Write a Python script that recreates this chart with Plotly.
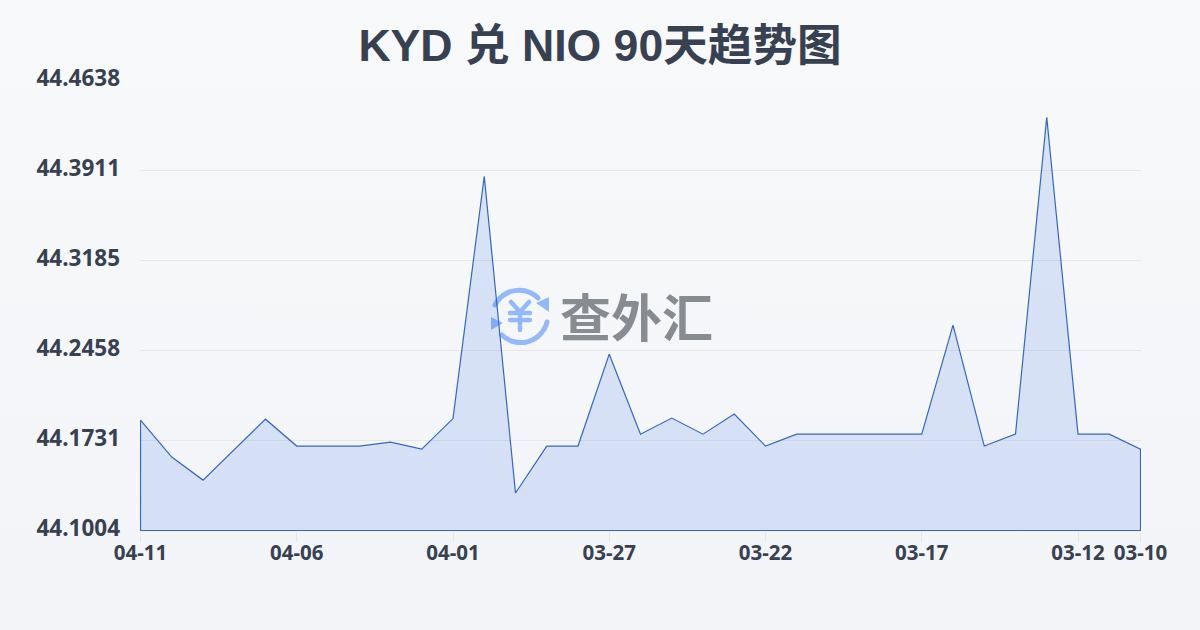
import base64
import plotly.graph_objects as go

dates = ["04-11","04-10","04-09","04-08","04-07","04-06","04-05","04-04","04-03","04-02","04-01",
         "03-31","03-30","03-29","03-28","03-27","03-26","03-25","03-24","03-23","03-22","03-21",
         "03-20","03-19","03-18","03-17","03-16","03-15","03-14","03-13","03-12","03-11","03-10"]
rates = [44.1895,44.1597,44.1411,44.1657,44.1903,44.1686,44.1686,44.1686,44.1718,44.1661,44.1908,
         44.3864,44.1307,44.1686,44.1686,44.2428,44.1782,44.1912,44.1782,44.1944,44.1686,44.1782,
         44.1782,44.1782,44.1782,44.1782,44.2662,44.1686,44.1782,44.4340,44.1782,44.1782,44.1661]
y_ticks = [44.1004,44.1731,44.2458,44.3185,44.3911,44.4638]
x_ticks = ["04-11","04-06","04-01","03-27","03-22","03-17","03-12","03-10"]
title = "KYD 兑 NIO 90天趋势图"
logo_text = "查外汇"

def uri(svg):
    return "data:image/svg+xml;base64," + base64.b64encode(svg.encode()).decode()

bg = uri('<svg xmlns="http://www.w3.org/2000/svg" width="1200" height="630"><defs><linearGradient id="g" x1="0" y1="0" x2="0" y2="1">'
         '<stop offset="0" stop-color="#f8f9fb"/><stop offset="1" stop-color="#f2f4f7"/></linearGradient></defs>'
         '<rect width="1200" height="630" fill="url(#g)"/></svg>')
icon = uri('<svg xmlns="http://www.w3.org/2000/svg" width="64" height="64" viewBox="0 0 64 64">'
           '<g fill="none" stroke="#93b8fb" stroke-width="5" stroke-linecap="round">'
           '<path d="M7 22 A27 27 0 0 1 50 15"/><path d="M59 39 A27 27 0 0 1 14 52"/>'
           '<path d="M23 19 L32 29 L41 19 M22 30 H42 M22 37 H42 M32 29 V47" stroke-width="4.5"/></g>'
           '<path d="M61 14 L61 29 L48 20 Z M3 34 L3 47 L15 40 Z" fill="#93b8fb"/></svg>')

x_poly = dates + [dates[-1], dates[0], dates[0]]
y_poly = rates + [y_ticks[0], y_ticks[0], rates[0]]

# Plot box in whole pixels; half a pixel of axis padding puts the edges on pixel centres.
W, H = 1001, 451
L, T = 140, 80
x_pad = 0.5 * (len(dates) - 1) / (W - 1)
y_pad = 0.5 * (y_ticks[-1] - y_ticks[0]) / (H - 1)

fig = go.Figure(go.Scatter(
    x=x_poly, y=y_poly, mode="lines", fill="toself", hoverinfo="skip",
    line=dict(color="#3366cc", width=1.2),
    fillcolor="rgba(37,99,235,0.14)",
))
fig.update_layout(
    width=1200, height=630, autosize=False, showlegend=False,
    margin=dict(l=L, r=1200-L-W, t=T, b=630-T-H),
    paper_bgcolor="#f8f9fb", plot_bgcolor="rgba(0,0,0,0)",
    font=dict(family="Noto Sans CJK SC, Noto Sans", color="#374151"),
    title=dict(text=f"<b>{title}</b>", x=0.5, xanchor="center", y=0.928, yanchor="middle",
               font=dict(size=44.6, color="#374151", family="Liberation Sans, Noto Sans CJK SC")),
    xaxis=dict(type="category", categoryorder="array", categoryarray=dates,
               range=[-x_pad, len(dates)-1+x_pad],
               tickmode="array", tickvals=x_ticks, ticktext=[f"<b>{t}</b>" for t in x_ticks],
               showgrid=False, zeroline=False, showline=False,
               ticks="outside", ticklen=10, tickwidth=1, tickcolor="#e5e7eb", ticklabelstandoff=-7,
               tickfont=dict(size=20.5, color="#374151", family="Noto Sans"), tickangle=0),
    yaxis=dict(range=[y_ticks[0]-y_pad, y_ticks[-1]+y_pad], tickmode="array", tickvals=y_ticks,
               ticktext=[f"<b>{v:.4f}</b>" for v in y_ticks],
               showgrid=True, gridcolor="#e5e7eb", gridwidth=1, zeroline=False, showline=False,
               ticks="", ticklabelstandoff=19, ticklabelshift=-2,
               tickfont=dict(size=22.5, color="#374151", family="Noto Sans")),
    images=[
        dict(source=bg, xref="paper", yref="paper", x=-L/W, y=1+T/H,
             sizex=1200/W, sizey=630/H, xanchor="left", yanchor="top", sizing="stretch", layer="below"),
        dict(source=icon, xref="paper", yref="paper", x=(488-L)/W, y=(T+H-283)/H,
             sizex=64/W, sizey=64/H, xanchor="left", yanchor="top", sizing="stretch", layer="below"),
    ],
    annotations=[dict(text=f"<b>{logo_text}</b>", xref="paper", yref="paper", x=(636-L)/W, y=(T+H-315)/H,
                      showarrow=False, xanchor="center", yanchor="middle",
                      font=dict(size=51, color="#878b92", family="Noto Sans CJK SC"))],
)
fig.write_html("out.html", config={"displayModeBar": False},
               post_script="document.body.style.margin='0';document.body.style.background='#f2f4f7';")
